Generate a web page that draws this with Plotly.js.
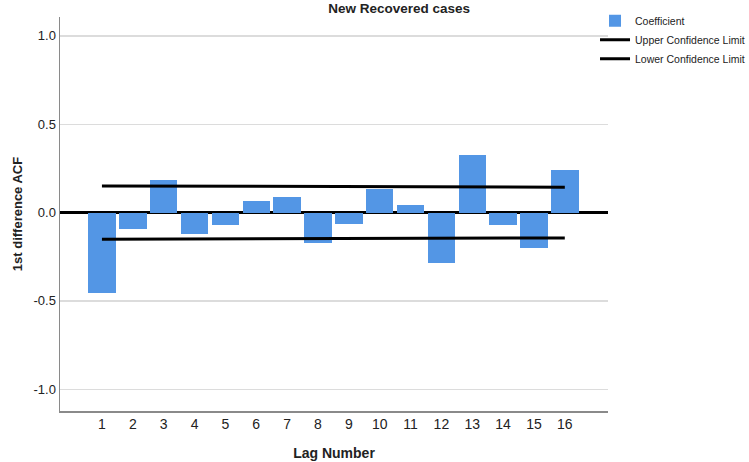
<!DOCTYPE html>
<html>
<head>
<meta charset="utf-8">
<script src="https://cdn.plot.ly/plotly-3.0.1.min.js"></script>
<style>html,body{margin:0;padding:0;background:#fff;}#chart{width:749px;height:462px;}</style>
</head>
<body>
<div id="chart"></div>
<script>
const lags = [1,2,3,4,5,6,7,8,9,10,11,12,13,14,15,16];
const coefficient = [-0.455,-0.092,0.183,-0.119,-0.070,0.066,0.087,-0.173,-0.062,0.136,0.045,-0.288,0.326,-0.068,-0.200,0.241];
const upperLimit = [0.151,0.1505,0.150,0.1495,0.149,0.1485,0.148,0.1475,0.147,0.1465,0.146,0.1455,0.145,0.1445,0.144,0.1435];
const lowerLimit = [-0.151,-0.1505,-0.150,-0.1495,-0.149,-0.1485,-0.148,-0.1475,-0.147,-0.1465,-0.146,-0.1455,-0.145,-0.1445,-0.144,-0.1435];
const yTicks = [-1.0,-0.5,0.0,0.5,1.0];
const yTickText = ['-1.0','-0.5','0.0','0.5','1.0'];

const font = 'Liberation Sans, Arial, sans-serif';
const traces = [
  {type:'bar', name:'Coefficient', x:lags, y:coefficient, width:0.89,
   marker:{color:'#5396e5', line:{width:0}}},
  {type:'scatter', mode:'lines', name:'Upper Confidence Limit', x:lags, y:upperLimit,
   line:{color:'#000', width:3}},
  {type:'scatter', mode:'lines', name:'Lower Confidence Limit', x:lags, y:lowerLimit,
   line:{color:'#000', width:3}}
];
const layout = {
  width:749, height:462,
  margin:{l:60, r:141, t:17, b:51, autoexpand:false},
  paper_bgcolor:'#fff', plot_bgcolor:'#fff',
  font:{family:font, size:13, color:'#222'},
  title:{text:'<b>New Recovered cases</b>', font:{family:font, size:13.5, color:'#222'},
         x:0.533, xanchor:'center', y:0.983, yanchor:'middle', yref:'container'},
  showlegend:true,
  legend:{x:0.9763, xanchor:'left', y:1.027, yanchor:'top', font:{family:font, size:10.5, color:'#222'},
          tracegroupgap:0, itemwidth:30, bgcolor:'rgba(0,0,0,0)'},
  bargap:0,
  xaxis:{range:[-0.36,17.4], tickvals:lags, ticktext:lags.map(String), showgrid:false, zeroline:false,
         showline:true, linecolor:'#8a8a8a', linewidth:1.5, ticks:'', tickfont:{size:14, color:'#222'},
         title:{text:'<b>Lag Number</b>', font:{family:font, size:14, color:'#222'}, standoff:17}},
  yaxis:{range:[-1.123,1.107], tickvals:yTicks, ticktext:yTickText, showgrid:true, gridcolor:'#dcdcdc', gridwidth:1.5,
         zeroline:true, zerolinecolor:'#000', zerolinewidth:2.5,
         showline:true, linecolor:'#8a8a8a', linewidth:1.5, ticks:'', tickfont:{size:13, color:'#222'},
         title:{text:'<b>1st difference ACF</b>', font:{family:font, size:13, color:'#222'}, standoff:8}}
};
Plotly.newPlot('chart', traces, layout, {displayModeBar:false, staticPlot:true});
</script>
</body>
</html>
